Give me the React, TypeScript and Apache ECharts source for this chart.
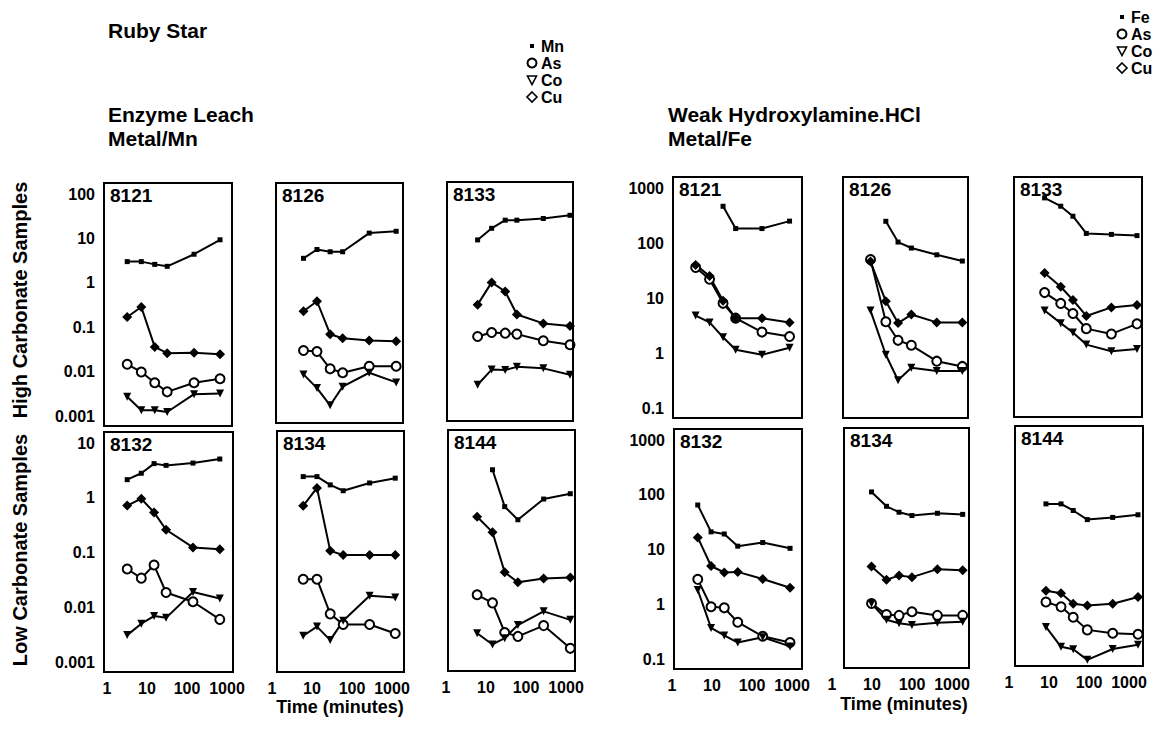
import React, { useEffect, useRef } from "react";
import * as echarts from "echarts";

const FONT = '"Liberation Sans", Arial, "DejaVu Sans", sans-serif';

// ---- tick labels (ascending by exponent) ----
const xTickLabels = ["1", "10", "100", "1000"];
const yTicksEnzymeHigh = ["0.001", "0.01", "0.1", "1", "10", "100"];
const yTicksEnzymeLow = ["0.001", "0.01", "0.1", "1", "10"];
const yTicksHydroxyl = ["0.1", "1", "10", "100", "1000"];

const enzymeMetals = ["Mn", "As", "Co", "Cu"];
const hydroxylMetals = ["Fe", "As", "Co", "Cu"];

// ---- Enzyme Leach, high carbonate ----
const t8121E = [3.2, 7.2, 15.6, 32, 150, 670];
const mn8121E = [3.0, 3.0, 2.6, 2.35, 4.4, 9.3];
const as8121E = [0.0146, 0.0098, 0.0056, 0.0035, 0.0056, 0.0069];
const co8121E = [0.0027, 0.00135, 0.00135, 0.00123, 0.0031, 0.0032];
const cu8121E = [0.17, 0.285, 0.036, 0.026, 0.0266, 0.0245];

const t8126E = [4.1, 8.9, 19, 39, 180, 850];
const mn8126E = [3.4, 5.4, 4.8, 4.8, 12.8, 14.1];
const as8126E = [0.0267, 0.0253, 0.0102, 0.0083, 0.0117, 0.0117];
const co8126E = [0.0076, 0.0037, 0.0015, 0.004, 0.0083, 0.005];
const cu8126E = [0.21, 0.356, 0.063, 0.051, 0.045, 0.0436];

const t8133E = [4.9, 11, 24, 47, 215, 1000];
const mn8133E = [8.4, 15.5, 23.8, 23.8, 26, 30.8];
const as8133E = [0.051, 0.063, 0.061, 0.058, 0.041, 0.033];
const co8133E = [0.004, 0.0089, 0.0087, 0.0103, 0.0095, 0.0068];
const cu8133E = [0.275, 0.89, 0.55, 0.164, 0.102, 0.089];

// ---- Weak Hydroxylamine, high carbonate ----
const t8121H = [3.1, 6.9, 15, 31, 141, 690];
const fe8121H = [null, null, 465, 183, 183, 250];
const as8121H = [36, 22, 8.0, 4.3, 2.4, 2.0];
const co8121H = [4.8, 3.6, 1.93, 1.15, 0.93, 1.25];
const cu8121H = [40, 25, 8.9, 4.3, 4.3, 3.6];

const t8126H = [4.1, 9.9, 20, 43, 186, 810];
const fe8126H = [null, 248, 104, 81, 61, 47];
const as8126H = [50, 3.7, 1.7, 1.38, 0.71, 0.57];
const co8126H = [5.9, 0.93, 0.32, 0.54, 0.47, 0.47];
const cu8126H = [46, 8.7, 3.5, 5.0, 3.6, 3.6];

const t8133H = [4.9, 12.4, 25, 54, 229, 1000];
const fe8133H = [660, 465, 305, 148, 142, 135];
const as8133H = [12.3, 7.8, 5.1, 2.7, 2.16, 3.3];
const co8133H = [5.8, 3.4, 2.3, 1.38, 1.04, 1.15];
const cu8133H = [28, 15.7, 9.0, 4.6, 6.6, 7.3];

// ---- Enzyme Leach, low carbonate ----
const t8132E = [3.2, 7.2, 15, 30, 141, 660];
const mn8132E = [2.14, 2.8, 4.2, 3.9, 4.3, 5.1];
const as8132E = [0.05, 0.034, 0.059, 0.0186, 0.0126, 0.006];
const co8132E = [0.0031, 0.005, 0.0069, 0.0064, 0.019, 0.0144];
const cu8132E = [0.72, 0.96, 0.54, 0.26, 0.124, 0.115];

const t8134E = [3.8, 8.4, 18, 38, 174, 760];
const mn8134E = [2.35, 2.35, 1.66, 1.3, 1.8, 2.2];
const as8134E = [0.032, 0.032, 0.0075, 0.0048, 0.0048, 0.0033];
const co8134E = [0.003, 0.0044, 0.0025, 0.0056, 0.016, 0.0149];
const cu8134E = [0.69, 1.46, 0.105, 0.088, 0.088, 0.088];

const t8144E = [4.5, 10.9, 22, 47, 207, 960];
const mn8144E = [null, 3.0, 0.64, 0.37, 0.88, 1.1];
const as8144E = [0.016, 0.0114, 0.0033, 0.0028, 0.0044, 0.0017];
const co8144E = [0.0032, 0.002, 0.0026, 0.0045, 0.008, 0.0056];
const cu8144E = [0.42, 0.22, 0.041, 0.027, 0.0315, 0.033];

// ---- Weak Hydroxylamine, low carbonate ----
const t8132H = [3.3, 7.1, 15.2, 33, 139, 670];
const fe8132H = [65, 21, 19.2, 11.5, 13.4, 10.5];
const as8132H = [2.85, 0.9, 0.86, 0.47, 0.26, 0.2];
const co8132H = [1.82, 0.37, 0.27, 0.2, 0.25, 0.17];
const cu8132H = [16.6, 5.0, 3.8, 3.9, 2.9, 2.0];

const t8134H = [4.1, 9.7, 20, 42, 182, 780];
const fe8134H = [108, 59, 46, 40, 44, 42];
const as8134H = [0.99, 0.62, 0.6, 0.7, 0.6, 0.6];
const co8134H = [0.99, 0.5, 0.43, 0.4, 0.44, 0.46];
const cu8134H = [4.7, 2.7, 3.2, 3.0, 4.2, 4.0];

const t8144H = [5.0, 11.9, 24, 54, 233, 1000];
const fe8144H = [60, 60, 45.5, 31, 34, 38];
const as8144H = [0.97, 0.79, 0.51, 0.3, 0.26, 0.25];
const co8144H = [0.34, 0.147, 0.133, 0.085, 0.134, 0.16];
const cu8144H = [1.55, 1.4, 0.9, 0.84, 0.9, 1.2];

type Panel = {
  id: string;
  box: number[];
  ticks: string[];
  lowExp: number;
  metals: string[];
  t: number[];
  vals: (number | null)[][];
  yLabels: boolean;
  xLabels: boolean;
  xShift: number;
};

const panels: Panel[] = [
  { id: "8121", box: [104, 183, 128, 243], ticks: yTicksEnzymeHigh, lowExp: -3, metals: enzymeMetals, t: t8121E, vals: [mn8121E, as8121E, co8121E, cu8121E], yLabels: true, xLabels: false, xShift: 0 },
  { id: "8126", box: [276, 183, 127, 240], ticks: yTicksEnzymeHigh, lowExp: -3, metals: enzymeMetals, t: t8126E, vals: [mn8126E, as8126E, co8126E, cu8126E], yLabels: false, xLabels: false, xShift: 0 },
  { id: "8133", box: [447, 182, 126, 239], ticks: yTicksEnzymeHigh, lowExp: -3, metals: enzymeMetals, t: t8133E, vals: [mn8133E, as8133E, co8133E, cu8133E], yLabels: false, xLabels: false, xShift: 0 },
  { id: "8121", box: [673, 177, 129, 241], ticks: yTicksHydroxyl, lowExp: -1, metals: hydroxylMetals, t: t8121H, vals: [fe8121H, as8121H, co8121H, cu8121H], yLabels: true, xLabels: false, xShift: 0 },
  { id: "8126", box: [843, 177, 125, 241], ticks: yTicksHydroxyl, lowExp: -1, metals: hydroxylMetals, t: t8126H, vals: [fe8126H, as8126H, co8126H, cu8126H], yLabels: false, xLabels: false, xShift: 0 },
  { id: "8133", box: [1014, 177, 128, 240], ticks: yTicksHydroxyl, lowExp: -1, metals: hydroxylMetals, t: t8133H, vals: [fe8133H, as8133H, co8133H, cu8133H], yLabels: false, xLabels: false, xShift: 0 },
  { id: "8132", box: [104, 432, 129, 240], ticks: yTicksEnzymeLow, lowExp: -3, metals: enzymeMetals, t: t8132E, vals: [mn8132E, as8132E, co8132E, cu8132E], yLabels: true, xLabels: true, xShift: 0 },
  { id: "8134", box: [277, 431, 127, 241], ticks: yTicksEnzymeLow, lowExp: -3, metals: enzymeMetals, t: t8134E, vals: [mn8134E, as8134E, co8134E, cu8134E], yLabels: false, xLabels: true, xShift: 8 },
  { id: "8144", box: [448, 430, 127, 241], ticks: yTicksEnzymeLow, lowExp: -3, metals: enzymeMetals, t: t8144E, vals: [mn8144E, as8144E, co8144E, cu8144E], yLabels: false, xLabels: true, xShift: 5 },
  { id: "8132", box: [674, 429, 128, 240], ticks: yTicksHydroxyl, lowExp: -1, metals: hydroxylMetals, t: t8132H, vals: [fe8132H, as8132H, co8132H, cu8132H], yLabels: true, xLabels: true, xShift: 5 },
  { id: "8134", box: [844, 428, 125, 240], ticks: yTicksHydroxyl, lowExp: -1, metals: hydroxylMetals, t: t8134H, vals: [fe8134H, as8134H, co8134H, cu8134H], yLabels: false, xLabels: true, xShift: 15 },
  { id: "8144", box: [1015, 426, 128, 240], ticks: yTicksHydroxyl, lowExp: -1, metals: hydroxylMetals, t: t8144H, vals: [fe8144H, as8144H, co8144H, cu8144H], yLabels: false, xLabels: true, xShift: 9 },
];

const symbolFor = (metal: string) => {
  if (metal === "Mn" || metal === "Fe")
    return { symbol: "rect", symbolSize: 5, symbolRotate: 0, itemStyle: { color: "#000" } };
  if (metal === "As")
    return { symbol: "circle", symbolSize: 9, symbolRotate: 0, itemStyle: { color: "#fff", borderColor: "#000", borderWidth: 2 } };
  if (metal === "Co")
    return { symbol: "triangle", symbolSize: 8, symbolRotate: 180, itemStyle: { color: "#000" } };
  return { symbol: "diamond", symbolSize: 10, symbolRotate: 0, itemStyle: { color: "#000" } };
};

const boldText = (text: string, x: number, y: number, size: number, extra: any = {}) => ({
  type: "text",
  x,
  y,
  silent: true,
  ...extra,
  style: {
    text,
    fill: "#000",
    fontFamily: FONT,
    fontWeight: "bold",
    fontSize: size,
    align: extra.align || "left",
    textAlign: extra.align || "left",
    verticalAlign: "middle",
    textVerticalAlign: "middle",
  },
});

const legendGroup = (metals: string[], x: number, y0: number, gap: number) => {
  const els: any[] = [];
  metals.forEach((m, i) => {
    const y = y0 + i * gap;
    if (m === "Mn" || m === "Fe") {
      els.push({ type: "rect", shape: { x: x - 2, y: y - 2, width: 4, height: 4 }, style: { fill: "#000" } });
    } else if (m === "As") {
      els.push({ type: "circle", shape: { cx: x, cy: y, r: 4.5 }, style: { fill: "none", stroke: "#000", lineWidth: 2 } });
    } else if (m === "Co") {
      els.push({ type: "polygon", shape: { points: [[x - 4.5, y - 4], [x + 4.5, y - 4], [x, y + 4.5]] }, style: { fill: "none", stroke: "#000", lineWidth: 1.6 } });
    } else {
      els.push({ type: "polygon", shape: { points: [[x, y - 5], [x + 5, y], [x, y + 5], [x - 5, y]] }, style: { fill: "none", stroke: "#000", lineWidth: 1.6 } });
    }
    els.push(boldText(m, x + 9, y, 16));
  });
  return els;
};

export default function App() {
  const ref = useRef<HTMLDivElement>(null);

  useEffect(() => {
    if (!ref.current) return;
    const chart = echarts.init(ref.current, undefined, { renderer: "svg" });

    const grid = panels.map((p) => ({
      left: p.box[0] + 3,
      top: p.box[1] + 11,
      width: 120,
      height: p.box[3] - 21,
    }));

    const xAxis = panels.map((p, i) => ({
      type: "log",
      logBase: 10,
      gridIndex: i,
      min: 1,
      max: 1000,
      axisLine: { show: false },
      axisTick: { show: false },
      splitLine: { show: false },
      axisLabel: {
        show: p.xLabels,
        margin: 18,
        color: "#000",
        fontFamily: FONT,
        fontWeight: "bold",
        fontSize: 16,
        padding: [0, p.xShift * 2, 0, 0],
        formatter: (v: number) => xTickLabels[Math.round(Math.log10(v))] ?? "",
      },
    }));

    const yAxis = panels.map((p, i) => ({
      type: "log",
      logBase: 10,
      gridIndex: i,
      min: Math.pow(10, p.lowExp),
      max: Math.pow(10, p.lowExp + p.ticks.length - 1),
      axisLine: { show: false },
      axisTick: { show: false },
      splitLine: { show: false },
      axisLabel: {
        show: p.yLabels,
        margin: 12,
        color: "#000",
        fontFamily: FONT,
        fontWeight: "bold",
        fontSize: 16,
        formatter: (v: number) => p.ticks[Math.round(Math.log10(v)) - p.lowExp] ?? "",
      },
    }));

    const series: any[] = [];
    panels.forEach((p, i) => {
      p.metals.forEach((m, k) => {
        const vals = p.vals[k];
        const data = p.t
          .map((t, j) => (vals[j] == null ? null : [t, vals[j]]))
          .filter((d) => d !== null);
        series.push({
          type: "line",
          name: m,
          xAxisIndex: i,
          yAxisIndex: i,
          data,
          clip: false,
          silent: true,
          lineStyle: { color: "#000", width: 2 },
          ...symbolFor(m),
          emphasis: { disabled: true },
        });
      });
    });

    const graphics: any[] = [];
    panels.forEach((p) => {
      graphics.push({
        type: "rect",
        silent: true,
        shape: { x: p.box[0], y: p.box[1], width: p.box[2], height: p.box[3] },
        style: { fill: "none", stroke: "#000", lineWidth: 2 },
        z: 10,
      });
      graphics.push(boldText(p.id, p.box[0] + 6, p.box[1] + 12, 19));
    });

    graphics.push(boldText("Ruby Star", 108, 30, 21));
    graphics.push(boldText("Enzyme Leach", 108, 114, 21));
    graphics.push(boldText("Metal/Mn", 108, 138, 21));
    graphics.push(boldText("Weak Hydroxylamine.HCl", 668, 114, 21));
    graphics.push(boldText("Metal/Fe", 668, 138, 21));
    graphics.push(...legendGroup(enzymeMetals, 532, 46, 17));
    graphics.push(...legendGroup(hydroxylMetals, 1122, 17, 17));
    graphics.push(boldText("High Carbonate Samples", 20, 300, 20, { rotation: Math.PI / 2, align: "center" }));
    graphics.push(boldText("Low Carbonate Samples", 20, 550, 20, { rotation: Math.PI / 2, align: "center" }));
    graphics.push(boldText("Time (minutes)", 340, 707, 18, { align: "center" }));
    graphics.push(boldText("Time (minutes)", 904, 704, 18, { align: "center" }));

    chart.setOption({
      animation: false,
      backgroundColor: "#fff",
      grid,
      xAxis,
      yAxis,
      series,
      graphic: { elements: graphics },
    });

    return () => chart.dispose();
  }, []);

  return (
    <div
      ref={ref}
      style={{ position: "absolute", left: 0, top: 0, width: 1155, height: 745 }}
    />
  );
}
